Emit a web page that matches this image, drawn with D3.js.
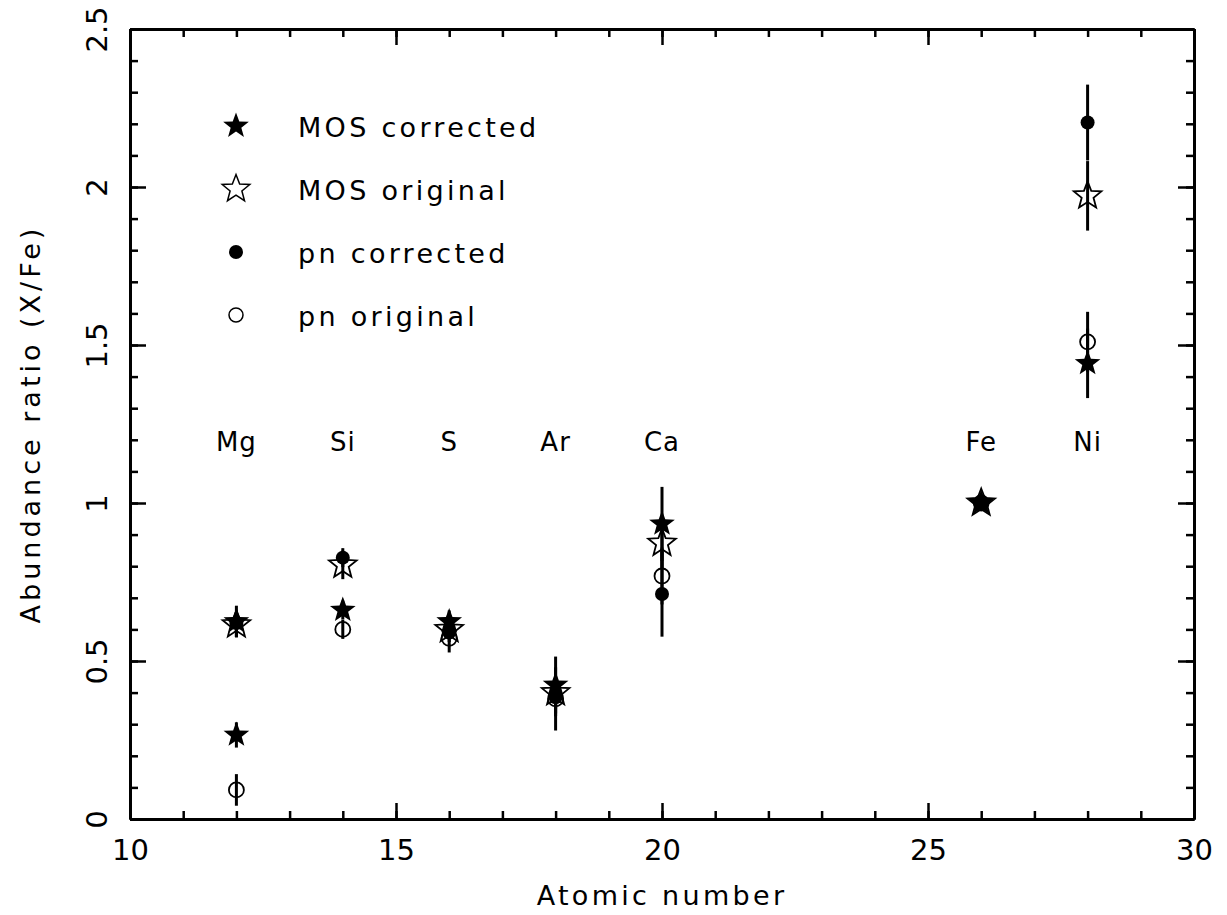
<!DOCTYPE html>
<html>
<head>
<meta charset="utf-8">
<script src="https://cdn.jsdelivr.net/npm/d3@7"></script>
<style>
  html, body { margin: 0; padding: 0; background: #fff; }
  svg { display: block; }
  text { font-family: "DejaVu Sans", sans-serif; fill: #000; }
</style>
</head>
<body>
<svg id="chart" width="1227" height="915"></svg>
<script>
// ---------------- data ----------------
const elements = ["Mg", "Si", "S", "Ar", "Ca", "Fe", "Ni"];
const atomicNumbers = [12, 14, 16, 18, 20, 26, 28];

// MOS corrected (two Mg entries are visible as filled stars)
const mosCorrectedZ   = [12, 12, 14, 16, 18, 20, 26, 28];
const mosCorrected    = [0.625, 0.266, 0.661, 0.625, 0.424, 0.934, 1.0, 1.442];
const mosCorrectedErr = [0.05, 0.04, 0.03, 0.035, 0.09, 0.117, 0.0, 0.11];

const mosOriginalZ   = [12, 14, 16, 18, 20, 26, 28];
const mosOriginal    = [0.615, 0.804, 0.60, 0.40, 0.873, 1.0, 1.972];
const mosOriginalErr = [0.04, 0.045, 0.03, 0.05, 0.08, 0.0, 0.11];

const pnCorrectedZ   = [12, 14, 16, 18, 20, 26, 28];
const pnCorrected    = [0.62, 0.827, 0.59, 0.385, 0.712, 1.0, 2.204];
const pnCorrectedErr = [0.03, 0.03, 0.03, 0.06, 0.135, 0.0, 0.12];

const pnOriginalZ   = [12, 14, 16, 18, 20, 26, 28];
const pnOriginal    = [0.092, 0.600, 0.572, 0.38, 0.769, 1.0, 1.51];
const pnOriginalErr = [0.05, 0.03, 0.045, 0.10, 0.09, 0.0, 0.095];

const xMajorTicks = [10, 15, 20, 25, 30];
const yMajorTicks = [0, 0.5, 1, 1.5, 2, 2.5];
const yTickLabels = ["0", "0.5", "1", "1.5", "2", "2.5"];
const legendLabels = ["MOS corrected", "MOS original", "pn corrected", "pn original"];
const labelLevel = 1.2;

// ---------------- layout ----------------
const svg = d3.select("#chart");
const L = 130, R = 1194, T = 29, B = 819;
const x = d3.scaleLinear().domain([10, 30]).range([L, R]);
const y = d3.scaleLinear().domain([0, 2.5]).range([B, T]);

const xMinor = d3.range(10, 30.001, 1);
const yMinor = d3.range(0, 2.5001, 0.1).map(v => +v.toFixed(2));

function starPath(R0, r0) {
  const pts = [];
  for (let i = 0; i < 10; i++) {
    const a = -Math.PI / 2 + i * Math.PI / 5;
    const rr = i % 2 === 0 ? R0 : r0;
    pts.push([rr * Math.cos(a), rr * Math.sin(a)]);
  }
  return "M" + pts.map(p => p[0].toFixed(2) + "," + p[1].toFixed(2)).join("L") + "Z";
}
const STAR_R = 13.5, STAR_r = 5.6;

// ---------------- axes ----------------
function styleAxis(g) {
  g.selectAll(".domain").attr("stroke", "#000").attr("stroke-width", 3);
  g.selectAll(".tick line").attr("stroke", "#000").attr("stroke-width", 2.5);
}
const gAx = svg.append("g");
// bottom
gAx.append("g").attr("transform", `translate(0,${B})`)
  .call(d3.axisBottom(x).tickValues(xMinor).tickSize(-8).tickSizeOuter(0).tickFormat(""))
  .call(styleAxis);
gAx.append("g").attr("transform", `translate(0,${B})`)
  .call(d3.axisBottom(x).tickValues(xMajorTicks).tickSize(-16).tickSizeOuter(0).tickPadding(20).tickFormat(d3.format("d")))
  .call(styleAxis)
  .call(g => g.selectAll("text").attr("font-size", 29).attr("font-family", "DejaVu Sans").attr("fill", "#000"));
// top
gAx.append("g").attr("transform", `translate(0,${T})`)
  .call(d3.axisTop(x).tickValues(xMinor).tickSize(-8).tickSizeOuter(0).tickFormat(""))
  .call(styleAxis);
gAx.append("g").attr("transform", `translate(0,${T})`)
  .call(d3.axisTop(x).tickValues(xMajorTicks).tickSize(-16).tickSizeOuter(0).tickFormat(""))
  .call(styleAxis);
// left
gAx.append("g").attr("transform", `translate(${L},0)`)
  .call(d3.axisLeft(y).tickValues(yMinor).tickSize(-8).tickSizeOuter(0).tickFormat(""))
  .call(styleAxis);
gAx.append("g").attr("transform", `translate(${L},0)`)
  .call(d3.axisLeft(y).tickValues(yMajorTicks).tickSize(-16).tickSizeOuter(0).tickFormat((d, i) => yTickLabels[i]))
  .call(styleAxis)
  .call(g => g.selectAll("text")
    .attr("font-size", 29).attr("font-family", "DejaVu Sans").attr("fill", "#000")
    .attr("x", 0).attr("dy", 0).attr("text-anchor", "middle")
    .attr("transform", "translate(-23,0) rotate(-90)"));
// right
gAx.append("g").attr("transform", `translate(${R},0)`)
  .call(d3.axisRight(y).tickValues(yMinor).tickSize(-8).tickSizeOuter(0).tickFormat(""))
  .call(styleAxis);
gAx.append("g").attr("transform", `translate(${R},0)`)
  .call(d3.axisRight(y).tickValues(yMajorTicks).tickSize(-16).tickSizeOuter(0).tickFormat(""))
  .call(styleAxis);

// axis titles
svg.append("text").attr("x", (L + R) / 2).attr("y", 905)
  .attr("text-anchor", "middle").attr("font-size", 27).attr("letter-spacing", 3.3)
  .text("Atomic number");
svg.append("text").attr("transform", `translate(40,${(T + B) / 2}) rotate(-90)`)
  .attr("text-anchor", "middle").attr("font-size", 27).attr("letter-spacing", 4)
  .text("Abundance ratio (X/Fe)");

// element labels
svg.append("g").selectAll("text").data(elements).join("text")
  .attr("x", (d, i) => x(atomicNumbers[i]))
  .attr("y", y(labelLevel) + 11)
  .attr("text-anchor", "middle").attr("font-size", 26).attr("letter-spacing", 1)
  .text(d => d);

// ---------------- series ----------------
function series(zs, vs, es) { return zs.map((z, i) => ({ z, v: vs[i], e: es[i] })); }
const sMC = series(mosCorrectedZ, mosCorrected, mosCorrectedErr);
const sMO = series(mosOriginalZ, mosOriginal, mosOriginalErr);
const sPC = series(pnCorrectedZ, pnCorrected, pnCorrectedErr);
const sPO = series(pnOriginalZ, pnOriginal, pnOriginalErr);

const gErr = svg.append("g");
[sMC, sMO, sPC, sPO].forEach(s => {
  gErr.selectAll(null).data(s.filter(d => d.e > 0)).join("line")
    .attr("x1", d => x(d.z)).attr("x2", d => x(d.z))
    .attr("y1", d => y(d.v - d.e)).attr("y2", d => y(d.v + d.e))
    .attr("stroke", "#000").attr("stroke-width", 3);
});

const gM = svg.append("g");
gM.selectAll(null).data(sPO).join("circle")
  .attr("cx", d => x(d.z)).attr("cy", d => y(d.v)).attr("r", 7.5)
  .attr("fill", "none").attr("stroke", "#000").attr("stroke-width", 1.8);
gM.selectAll(null).data(sPC).join("circle")
  .attr("cx", d => x(d.z)).attr("cy", d => y(d.v)).attr("r", 7)
  .attr("fill", "#000");
gM.selectAll(null).data(sMO).join("path")
  .attr("d", starPath(STAR_R + 1, STAR_r + 0.6))
  .attr("transform", d => `translate(${x(d.z)},${y(d.v)})`)
  .attr("fill", "none").attr("stroke", "#000").attr("stroke-width", 1.8).attr("stroke-linejoin", "miter");
gM.selectAll(null).data(sMC).join("path")
  .attr("d", starPath(STAR_R, STAR_r))
  .attr("transform", d => `translate(${x(d.z)},${y(d.v)})`)
  .attr("fill", "#000");

// ---------------- legend ----------------
const legX = 236, legTextX = 298, legY0 = 126, legDY = 63;
const leg = svg.append("g");
legendLabels.forEach((lab, i) => {
  const cy = legY0 + i * legDY;
  if (i === 0) leg.append("path").attr("d", starPath(STAR_R, STAR_r)).attr("transform", `translate(${legX},${cy})`).attr("fill", "#000");
  if (i === 1) leg.append("path").attr("d", starPath(STAR_R + 1, STAR_r + 0.6)).attr("transform", `translate(${legX},${cy})`).attr("fill", "none").attr("stroke", "#000").attr("stroke-width", 1.5);
  if (i === 2) leg.append("circle").attr("cx", legX).attr("cy", cy).attr("r", 7).attr("fill", "#000");
  if (i === 3) leg.append("circle").attr("cx", legX).attr("cy", cy).attr("r", 7).attr("fill", "none").attr("stroke", "#000").attr("stroke-width", 1.5);
  leg.append("text").attr("x", legTextX).attr("y", cy + 11)
    .attr("font-size", 27).attr("letter-spacing", 3.3).text(lab);
});
</script>
</body>
</html>
